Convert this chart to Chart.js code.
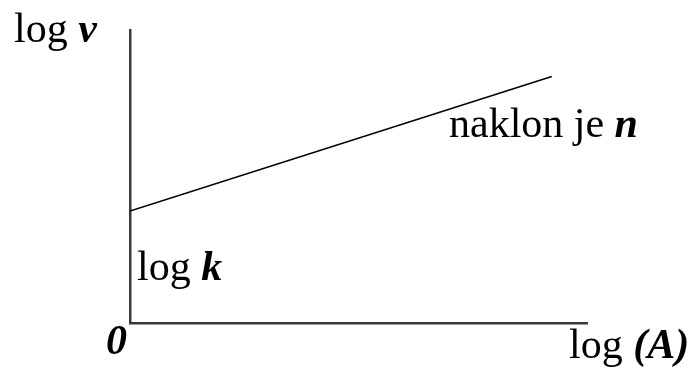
<!DOCTYPE html>
<html>
<head>
<meta charset="utf-8">
<script src="https://cdn.jsdelivr.net/npm/chart.js@4/dist/chart.umd.min.js"></script>
<style>
  html, body { margin: 0; padding: 0; background: #fff; }
  #wrap { width: 694px; height: 369px; }
</style>
</head>
<body>
<div id="wrap"><canvas id="logChart"></canvas></div>
<script>
// values (arbitrary units, axes 0..10)
const logA = [0, 9.23];
const logV = [3.82, 8.41];

const serif = '"Liberation Serif", "Times New Roman", serif';

// label pieces: [text, bold italic?]
const labelLogV = [['log ', false], ['v', true]];
const labelLogK = [['log ', false], ['k', true]];
const labelSlope = [['naklon je ', false], ['n', true]];
const labelLogA = [['log ', false], ['(A)', true]];
const labelZero = [['0', true]];

function drawPieces(ctx, pieces, x, y) {
    pieces.forEach(function (p) {
        ctx.font = (p[1] ? 'bold italic ' : '') + '42px ' + serif;
        ctx.fillText(p[0], x, y);
        x += ctx.measureText(p[0]).width;
    });
}

const textLabels = {
    id: 'textLabels',
    afterDraw(chart) {
        const ctx = chart.ctx;
        const area = chart.chartArea;
        ctx.save();
        ctx.fillStyle = '#000';
        ctx.textBaseline = 'alphabetic';
        drawPieces(ctx, labelLogV, 14, 42);
        drawPieces(ctx, labelLogK, area.left + 7, 280);
        drawPieces(ctx, labelSlope, 449, 137);
        drawPieces(ctx, labelZero, area.left - 24, 354);
        drawPieces(ctx, labelLogA, 569, 358);
        ctx.restore();
    }
};

new Chart(document.getElementById('logChart'), {
    type: 'line',
    data: {
        datasets: [{
            data: logA.map((x, i) => ({ x: x, y: logV[i] })),
            borderColor: '#000',
            borderWidth: 1.6,
            pointRadius: 0,
            fill: false
        }]
    },
    options: {
        responsive: true,
        maintainAspectRatio: false,
        animation: false,
        layout: { padding: { left: 130, right: 107, top: 30, bottom: 46 } },
        plugins: { legend: { display: false }, tooltip: { enabled: false } },
        scales: {
            x: {
                type: 'linear', min: 0, max: 10,
                grid: { display: false },
                ticks: { display: false },
                border: { display: true, color: '#3a3a3a', width: 2.5 },
                afterFit: s => { s.height = 0; }
            },
            y: {
                type: 'linear', min: 0, max: 10,
                grid: { display: false },
                ticks: { display: false },
                border: { display: true, color: '#3a3a3a', width: 2.5 },
                afterFit: s => { s.width = 0; }
            }
        }
    },
    plugins: [textLabels]
});
</script>
</body>
</html>
